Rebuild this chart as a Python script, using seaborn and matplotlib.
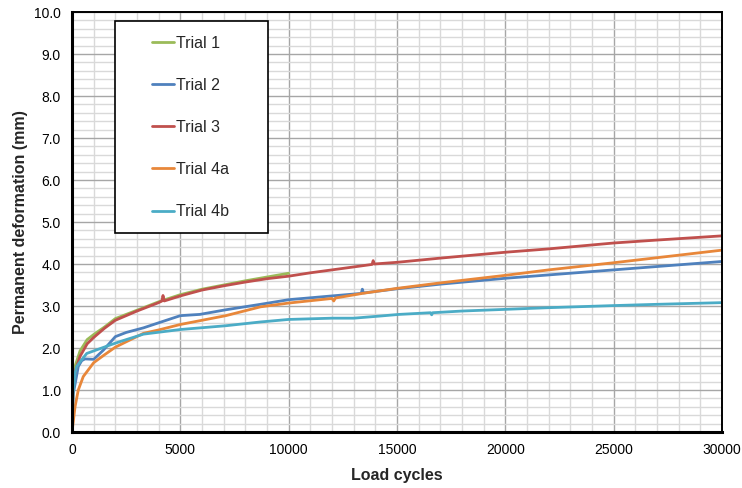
import numpy as np
import pandas as pd
import matplotlib
matplotlib.use("Agg")
import matplotlib.pyplot as plt
import seaborn as sns
from matplotlib.patches import Rectangle
from matplotlib.ticker import MultipleLocator, FormatStrFormatter

# ---- data ----
t1_x = [0, 50, 150, 370, 700, 1000, 1500, 2000, 3000, 4000, 5000, 6000, 7000, 8000, 9000, 10000]
t1_y = [0, 1.25, 1.58, 1.93, 2.2, 2.32, 2.5, 2.7, 2.9, 3.1, 3.27, 3.4, 3.5, 3.6, 3.69, 3.78]

t2_x = [0, 50, 150, 290, 450, 600, 1000, 1450, 2000, 2500, 3300, 4000, 5000, 5900, 7100, 8700,
        10000, 12000, 13350, 13400, 13450, 15000, 17000, 20000, 22000, 25000, 27000, 30000]
t2_y = [0, 0.9, 1.16, 1.56, 1.7, 1.74, 1.73, 1.95, 2.27, 2.37, 2.48, 2.6, 2.77, 2.8, 2.91, 3.04,
        3.15, 3.24, 3.3, 3.4, 3.31, 3.41, 3.52, 3.66, 3.74, 3.86, 3.94, 4.06]

t3_x = [0, 50, 150, 370, 700, 1000, 1500, 2000, 3000, 4000, 4150, 4200, 4260, 5000, 6000, 7000,
        8000, 9000, 10000, 11000, 12000, 13000, 13850, 13900, 13950, 15000, 17000, 20000, 22000,
        25000, 27000, 30000]
t3_y = [0, 1.15, 1.45, 1.8, 2.1, 2.25, 2.47, 2.66, 2.88, 3.08, 3.12, 3.25, 3.12, 3.24, 3.38, 3.48,
        3.57, 3.65, 3.71, 3.79, 3.86, 3.93, 3.99, 4.08, 4.0, 4.04, 4.14, 4.28, 4.36,
        4.5, 4.57, 4.67]

t4a_x = [0, 60, 140, 290, 520, 1000, 1450, 2000, 3300, 4000, 5000, 6000, 7100, 8700, 10000, 12000,
         12080, 12160, 13400, 15000, 17000, 20000, 22000, 25000, 27000, 30000]
t4a_y = [0, 0.25, 0.6, 1.0, 1.32, 1.65, 1.82, 2.02, 2.35, 2.43, 2.56, 2.66, 2.77, 2.98, 3.07, 3.18,
         3.12, 3.19, 3.3, 3.42, 3.55, 3.73, 3.86, 4.03, 4.15, 4.33]

t4b_x = [0, 50, 140, 215, 370, 680, 1000, 1750, 2200, 3300, 5000, 7100, 8700, 10000, 12000, 13000,
         14200, 15100, 16550, 16600, 16650, 18000, 20000, 22000, 25000, 27000, 30000]
t4b_y = [0, 0.9, 1.4, 1.56, 1.67, 1.87, 1.93, 2.07, 2.15, 2.33, 2.44, 2.53, 2.62, 2.68, 2.71, 2.71,
         2.76, 2.8, 2.84, 2.79, 2.84, 2.88, 2.92, 2.96, 3.01, 3.04, 3.08]

trials = ["Trial 1", "Trial 2", "Trial 3", "Trial 4a", "Trial 4b"]
colors = ["#9BBB59", "#4F81BD", "#C0504D", "#E8873A", "#4BACC6"]

series = [(t1_x, t1_y), (t2_x, t2_y), (t3_x, t3_y), (t4a_x, t4a_y), (t4b_x, t4b_y)]
frames = []
for name, (xs, ys) in zip(trials, series):
    frames.append(pd.DataFrame({"cycles": xs, "def": ys, "trial": name}))
df = pd.concat(frames, ignore_index=True)

# ---- style ----
sns.set_style("white")
plt.rcParams['font.family'] = ['Liberation Sans', 'DejaVu Sans']

fig = plt.figure(figsize=(7.42, 4.88), dpi=100)
ax = fig.add_axes([72 / 742, 1 - 432 / 488, 650 / 742, 420 / 488])

sns.lineplot(data=df, x="cycles", y="def", hue="trial", hue_order=trials,
             palette=dict(zip(trials, colors)), estimator=None, linewidth=2.0,
             ax=ax, legend=True)

ax.set_xlim(0, 30000)
ax.set_ylim(0, 10)
ax.xaxis.set_major_locator(MultipleLocator(5000))
ax.xaxis.set_minor_locator(MultipleLocator(1000))
ax.yaxis.set_major_locator(MultipleLocator(1.0))
ax.yaxis.set_minor_locator(MultipleLocator(0.2))
ax.yaxis.set_major_formatter(FormatStrFormatter("%.1f"))

ax.set_axisbelow(True)
ax.grid(which="major", color="#a6a6a6", linewidth=1.0)
ax.grid(which="minor", color="#d9d9d9", linewidth=1.0)

ax.tick_params(axis="both", which="major", direction="out", length=5, width=1,
               color="black", labelsize=10, labelcolor="black", pad=3)
ax.tick_params(axis="both", which="minor", length=0)

for side, lw in [("left", 2.2), ("bottom", 2.2), ("top", 1.4), ("right", 1.4)]:
    ax.spines[side].set_visible(True)
    ax.spines[side].set_color("black")
    ax.spines[side].set_linewidth(lw)

ax.set_xlabel("Load cycles", fontsize=11.5, fontweight="bold", labelpad=8)
ax.set_ylabel("Permanent deformation (mm)", fontsize=11.5, fontweight="bold", labelpad=4)

# legend box
rect = Rectangle((43 / 650, 199 / 420), 153 / 650, 212 / 420, transform=ax.transAxes,
                 facecolor="white", edgecolor="black", linewidth=1.2, zorder=3)
ax.add_patch(rect)
handles, labels = ax.get_legend_handles_labels()
for h in handles:
    h.set_linewidth(2.0)
leg = ax.legend(handles, labels, loc="upper left", bbox_to_anchor=(0.123, 0.944),
                frameon=False, fontsize=11.5, labelspacing=1.70, handlelength=1.4,
                handletextpad=0.12, borderpad=0, borderaxespad=0)
leg.set_zorder(5)

fig.savefig("out.png", dpi=100)
